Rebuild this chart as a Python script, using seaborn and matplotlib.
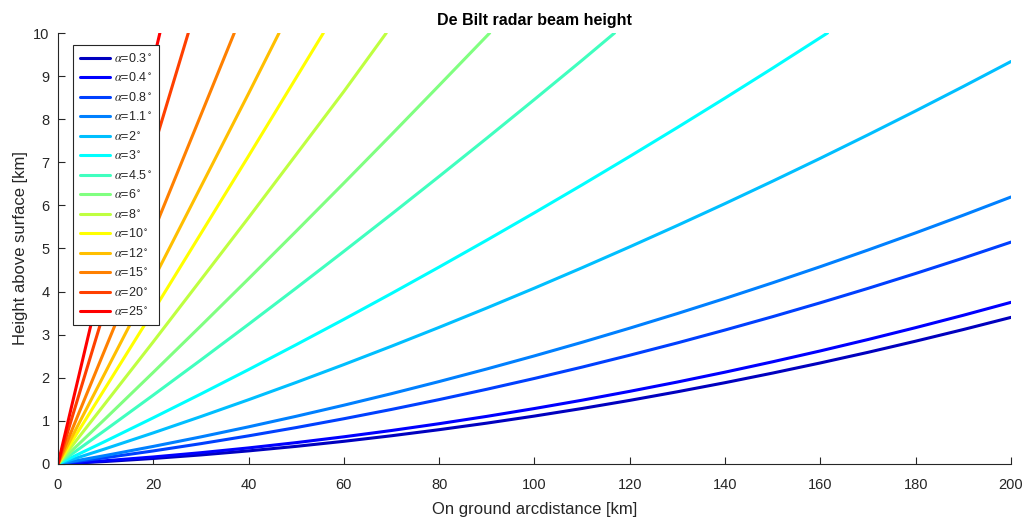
import matplotlib
matplotlib.use("Agg")
import matplotlib.pyplot as plt
import seaborn as sns
import pandas as pd

# Elevation angles (degrees) of the radar scans
angles = ["0.3", "0.4", "0.8", "1.1", "2", "3", "4.5", "6", "8", "10", "12", "15", "20", "25"]

# Ground distance [km] and beam height [km] for each elevation
dist_low = [0, 10, 20, 30, 40, 50, 60, 70, 80, 90, 100,
            110, 120, 130, 140, 150, 160, 170, 180, 190, 200]
h_03 = [0, 0.058, 0.128, 0.210, 0.304, 0.409, 0.526, 0.655, 0.796, 0.948, 1.112,
        1.288, 1.476, 1.676, 1.887, 2.110, 2.345, 2.591, 2.850, 3.120, 3.402]
h_04 = [0, 0.076, 0.163, 0.262, 0.373, 0.496, 0.631, 0.777, 0.935, 1.105, 1.287,
        1.480, 1.686, 1.902, 2.131, 2.372, 2.624, 2.888, 3.164, 3.451, 3.751]
h_08 = [0, 0.146, 0.303, 0.472, 0.653, 0.845, 1.050, 1.266, 1.494, 1.734, 1.985,
        2.248, 2.524, 2.810, 3.109, 3.419, 3.741, 4.075, 4.421, 4.778, 5.148]
h_11 = [0, 0.198, 0.408, 0.629, 0.862, 1.107, 1.364, 1.632, 1.913, 2.205, 2.509,
        2.824, 3.152, 3.491, 3.842, 4.205, 4.579, 4.965, 5.363, 5.773, 6.195]
h_2 = [0, 0.355, 0.722, 1.101, 1.491, 1.893, 2.307, 2.733, 3.171, 3.620, 4.081,
       4.554, 5.039, 5.535, 6.043, 6.563, 7.094, 7.638, 8.193, 8.760, 9.339]

d_3 = [0, 10, 20, 30, 40, 50, 60, 70, 80, 90, 100, 110, 120, 130, 140, 150, 161.5]
h_3 = [0, 0.530, 1.072, 1.625, 2.190, 2.768, 3.356, 3.957, 4.570, 5.194, 5.830,
       6.477, 7.137, 7.808, 8.491, 9.186, 10.0]
d_45 = [0, 10, 20, 30, 40, 50, 60, 70, 80, 90, 100, 110, 116.8]
h_45 = [0, 0.793, 1.598, 2.414, 3.242, 4.082, 4.934, 5.797, 6.673, 7.560, 8.459, 9.369, 10.0]
d_6 = [0, 10, 20, 30, 40, 50, 60, 70, 80, 90.6]
h_6 = [0, 1.057, 2.126, 3.206, 4.298, 5.402, 6.518, 7.645, 8.785, 10.0]
d_8 = [0, 20, 40, 60, 68.9]
h_8 = [0, 2.835, 5.716, 8.644, 10.0]
d_10 = [0, 20, 40, 55.7]
h_10 = [0, 3.550, 7.147, 10.0]
d_12 = [0, 20, 40, 46.4]
h_12 = [0, 4.275, 8.596, 10.0]
d_15 = [0, 20, 37.0]
h_15 = [0, 5.383, 10.0]
d_20 = [0, 10, 20, 27.35]
h_20 = [0, 3.646, 7.303, 10.0]
d_25 = [0, 10, 21.39]
h_25 = [0, 4.669, 10.0]

series = [
    (dist_low, h_03), (dist_low, h_04), (dist_low, h_08), (dist_low, h_11), (dist_low, h_2),
    (d_3, h_3), (d_45, h_45), (d_6, h_6), (d_8, h_8), (d_10, h_10),
    (d_12, h_12), (d_15, h_15), (d_20, h_20), (d_25, h_25),
]

# jet colormap with 14 entries
colors = [
    (0, 0, 0.75), (0, 0, 1), (0, 0.25, 1), (0, 0.5, 1), (0, 0.75, 1), (0, 1, 1),
    (0.25, 1, 0.75), (0.5, 1, 0.5), (0.75, 1, 0.25), (1, 1, 0), (1, 0.75, 0),
    (1, 0.5, 0), (1, 0.25, 0), (1, 0, 0),
]

labels = [r"$\alpha$=" + a + r"$^\circ$" for a in angles]

rows = []
for lab, (d, h) in zip(labels, series):
    for x, y in zip(d, h):
        rows.append({"dist": x, "height": y, "elev": lab})
df = pd.DataFrame(rows)

sns.set_theme(style="white")
plt.rcParams["font.family"] = ["Liberation Sans", "DejaVu Sans"]
plt.rcParams["mathtext.fontset"] = "stix"

axis_gray = "#262626"

fig = plt.figure(figsize=(10.24, 5.19), dpi=100)
ax = fig.add_axes([0.0566, 0.106, 0.9307, 0.8304])

sns.lineplot(data=df, x="dist", y="height", hue="elev", hue_order=labels,
             palette=colors, sort=False, estimator=None, linewidth=2.2, ax=ax)

ax.set_xlim(0, 200)
ax.set_ylim(0, 10)
ax.set_xticks(range(0, 201, 20))
ax.set_yticks(range(0, 11, 1))

for side in ("top", "right"):
    ax.spines[side].set_visible(False)
for side in ("left", "bottom"):
    ax.spines[side].set_color(axis_gray)
    ax.spines[side].set_linewidth(0.8)

ax.tick_params(direction="in", length=5, width=0.8, colors=axis_gray,
               labelsize=10.5, left=True, bottom=True)
ax.tick_params(axis="x", pad=10)
ax.tick_params(axis="y", pad=6)

ax.set_xlabel("On ground arcdistance [km]", fontsize=12, color=axis_gray, labelpad=7)
ax.set_ylabel("Height above surface [km]", fontsize=12, color=axis_gray, labelpad=4)
ax.set_title("De Bilt radar beam height", fontsize=11.5, fontweight="bold",
             color="black", pad=6)

leg = ax.legend(loc="upper left", bbox_to_anchor=(15 / 953, 1 - 12 / 431),
                borderaxespad=0, fontsize=9, frameon=True, fancybox=False,
                framealpha=1, edgecolor=axis_gray, handlelength=2.4,
                labelspacing=0.52, handletextpad=0.35, borderpad=0.55)
leg.get_frame().set_linewidth(0.8)
for line in leg.get_lines():
    line.set_linewidth(2.2)

fig.savefig("out.png", dpi=100)
